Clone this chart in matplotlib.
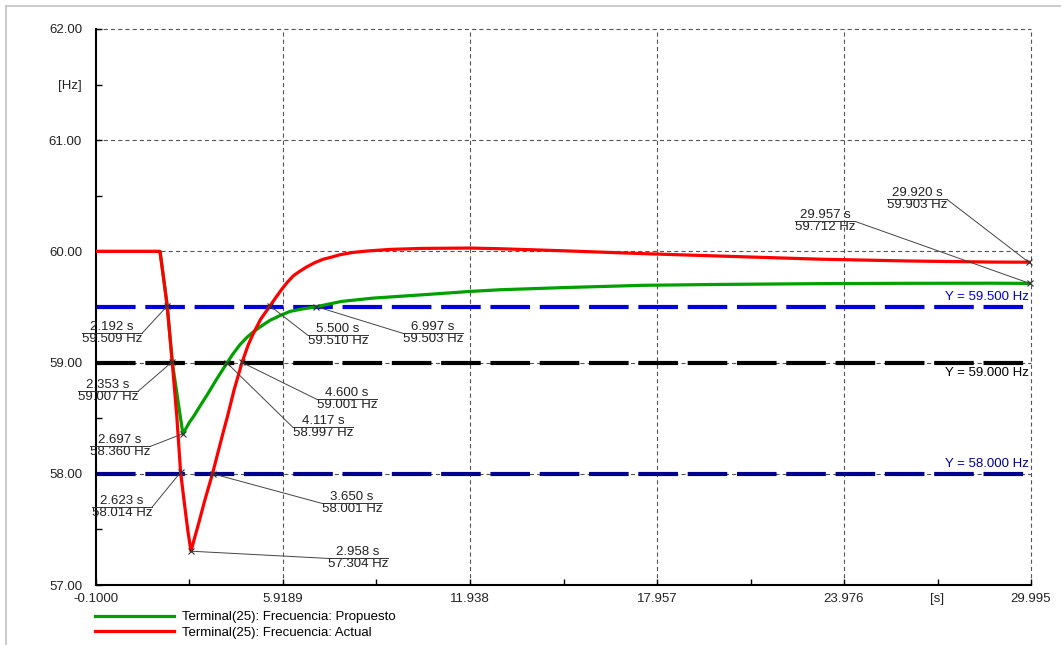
import matplotlib
matplotlib.use("Agg")
import matplotlib.pyplot as plt
from matplotlib.lines import Line2D
from matplotlib.ticker import FixedLocator, FixedFormatter

plt.rcParams["font.family"] = ["Liberation Sans", "DejaVu Sans"]
plt.rcParams["font.size"] = 9.5
plt.rcParams["lines.scale_dashes"] = False

# frequency at terminal 25, current case
t_actual = [-0.1, 1.96, 2.07, 2.192, 2.353, 2.50, 2.623, 2.76, 2.86, 2.958,
            3.05, 3.2, 3.4, 3.65, 4.0, 4.117, 4.35, 4.6, 4.8, 4.96, 5.2, 5.5,
            5.7, 5.88, 6.05, 6.25, 6.45, 6.68, 6.95, 7.22, 7.5, 7.75, 8.15, 8.61,
            9.36, 10.42, 11.938, 12.9, 15.0, 17.5, 20.0, 23.2, 26.0, 28.77, 29.92, 29.995]
f_actual = [60.0, 60.0, 59.77, 59.509, 59.007, 58.52, 58.014, 57.70, 57.48, 57.304,
            57.40, 57.55, 57.76, 58.001, 58.38, 58.50, 58.76, 59.001, 59.16, 59.26, 59.39, 59.51,
            59.59, 59.66, 59.72, 59.78, 59.82, 59.86, 59.90, 59.93, 59.95, 59.97, 59.99, 60.003,
            60.018, 60.027, 60.03, 60.024, 60.005, 59.98, 59.958, 59.93, 59.914, 59.904, 59.903, 59.903]

# frequency at terminal 25, proposed case
t_prop = [-0.1, 1.96, 2.07, 2.192, 2.353, 2.50, 2.60, 2.697, 2.76, 2.90, 3.05, 3.25,
          3.5, 3.78, 4.117, 4.3, 4.53, 4.75, 4.96, 5.2, 5.5, 5.8, 6.14, 6.5, 6.997, 7.8,
          8.82, 10.42, 11.938, 12.9, 15.0, 17.5, 20.0, 23.2, 26.0, 28.77, 29.957, 29.995]
f_prop = [60.0, 60.0, 59.77, 59.509, 59.007, 58.73, 58.54, 58.360, 58.39, 58.46, 58.52, 58.61,
          58.72, 58.85, 58.997, 59.075, 59.16, 59.225, 59.275, 59.325, 59.38, 59.42, 59.46, 59.48, 59.503, 59.55,
          59.58, 59.61, 59.64, 59.655, 59.675, 59.695, 59.703, 59.71, 59.713, 59.714, 59.712, 59.712]

# threshold levels
lim_values = [59.5, 59.0, 58.0]
lim_colors = ["#0000dd", "#000000", "#00008b"]
lim_text_above = [True, False, True]

xticks = [-0.1, 5.9189, 11.938, 17.957, 23.976, 29.995]
xtick_labels = ["-0.1000", "5.9189", "11.938", "17.957", "23.976", "29.995"]
yticks = [57, 58, 59, 60, 61, 62]
ytick_labels = ["57.00", "58.00", "59.00", "60.00", "61.00", "62.00"]

# marked points: time, freq, label underline left x, label underline y
marks_t = [2.192, 2.353, 2.697, 2.623, 5.500, 6.997, 4.600, 4.117, 3.650, 2.958, 29.957, 29.920]
marks_f = [59.509, 59.007, 58.360, 58.014, 59.510, 59.503, 59.001, 58.997, 58.001, 57.304, 59.712, 59.903]
label_x = [-0.55, -0.68, -0.29, -0.23, 6.72, 9.78, 7.01, 6.24, 7.17, 7.37, 22.40, 25.36]
label_y = [59.263, 58.741, 58.246, 57.698, 59.245, 59.263, 58.669, 58.417, 57.734, 57.239, 60.270, 60.468]
ul_width = 1.93

fig = plt.figure(figsize=(10.61, 6.45), dpi=100)
ax = fig.add_axes([96 / 1061, 1 - 585 / 645, (1031 - 96) / 1061, (585 - 29) / 645])

ax.set_xlim(-0.1, 29.995)
ax.set_ylim(57, 62)

# grid
grid_kw = dict(color="#555555", lw=0.8, dashes=(3.0, 2.2), zorder=1, clip_on=False)
for x in xticks[1:]:
    ax.axvline(x, **grid_kw)
for y in yticks[1:]:
    ax.axhline(y, **grid_kw)

# thresholds
for v, c, above in zip(lim_values, lim_colors, lim_text_above):
    ax.axhline(v, color=c, lw=3.0, dashes=(28.5, 7.0), zorder=2)
    off = 3 if above else -3
    ax.annotate(f"Y = {v:.3f} Hz", xy=(29.92, v), xytext=(0, off), textcoords="offset points",
                ha="right", va="bottom" if above else "top", color=c)

ax.plot(t_prop, f_prop, color="#00a000", lw=2.3, zorder=3, label="Terminal(25): Frecuencia: Propuesto")
ax.plot(t_actual, f_actual, color="#ff0000", lw=2.3, zorder=4, label="Terminal(25): Frecuencia: Actual")

# point labels with leader lines
for t, f, lx, ly in zip(marks_t, marks_f, label_x, label_y):
    x0, x1 = lx, lx + ul_width
    end = x1 if x1 < t else x0
    ax.plot([x0, x1], [ly, ly], color="#333333", lw=0.7, zorder=5, clip_on=False)
    ax.plot([t, end], [f, ly], color="#444444", lw=0.7, zorder=5, clip_on=False)
    ax.plot(t, f, marker="x", ms=4, mew=0.8, color="#333333", zorder=6, clip_on=False)
    ax.annotate(f"{t:.3f} s", xy=((x0 + x1) / 2, ly), xytext=(0, 0.5), textcoords="offset points",
                ha="center", va="bottom", color="#222222", annotation_clip=False)
    ax.annotate(f"{f:.3f} Hz", xy=((x0 + x1) / 2, ly), xytext=(0, 0.5), textcoords="offset points",
                ha="center", va="top", color="#222222", annotation_clip=False)

# axes styling
for s in ["top", "right"]:
    ax.spines[s].set_visible(False)
for s in ["left", "bottom"]:
    ax.spines[s].set_linewidth(1.5)
    ax.spines[s].set_color("black")

ax.xaxis.set_major_locator(FixedLocator(xticks))
ax.xaxis.set_major_formatter(FixedFormatter(xtick_labels))
xminor = [(a + b) / 2 for a, b in zip(xticks[:-1], xticks[1:])]
ax.xaxis.set_minor_locator(FixedLocator(xminor))
ax.xaxis.set_minor_formatter(FixedFormatter(["", "", "", "", "[s]"]))
ax.yaxis.set_major_locator(FixedLocator(yticks))
ax.yaxis.set_major_formatter(FixedFormatter(ytick_labels))
yminor = [57.5, 58.5, 59.5, 60.5, 61.5]
ax.yaxis.set_minor_locator(FixedLocator(yminor))
ax.yaxis.set_minor_formatter(FixedFormatter(["", "", "", "", "[Hz]"]))
ax.tick_params(which="both", direction="in", length=4, width=1, colors="black",
               labelcolor="#222222", labelsize=9.5)
ax.tick_params(axis="x", which="both", pad=6)
ax.tick_params(axis="y", which="both", pad=10)

fig.legend(loc="upper left", bbox_to_anchor=(95 / 1061, 1 - 611 / 645), frameon=False,
           borderpad=0, borderaxespad=0, handlelength=6.0, handletextpad=0.6,
           labelspacing=0.25)

# outer frame
fig.add_artist(Line2D([6 / 1061, 6 / 1061], [0, 1 - 6 / 645], color="#cccccc", lw=1.5))
fig.add_artist(Line2D([6 / 1061, 1], [1 - 6 / 645, 1 - 6 / 645], color="#cccccc", lw=1.5))

fig.savefig("out.png", dpi=100)
